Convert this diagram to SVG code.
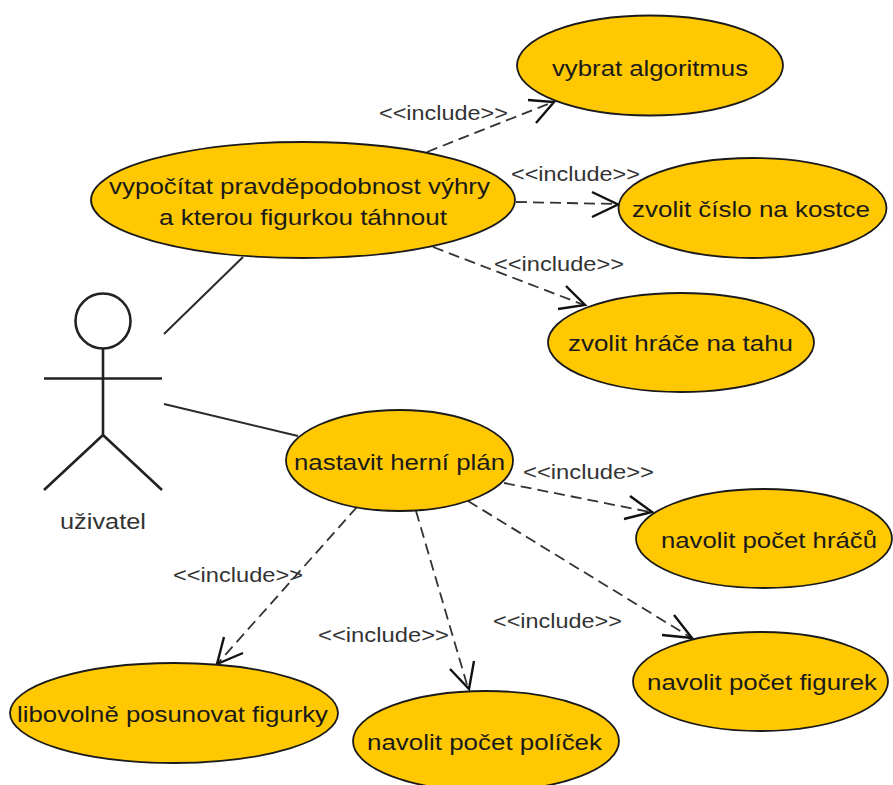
<svg xmlns="http://www.w3.org/2000/svg" width="893" height="785" viewBox="0 0 893 785">
<style>
.n{fill:#ffc800;stroke:#1a1a1a;stroke-width:1.8}
.t{font-family:"Liberation Sans",Arial,sans-serif;font-size:22.5px;fill:#1a1a1a}
.l{font-family:"Liberation Sans",Arial,sans-serif;font-size:20.5px;fill:#333}
.d{fill:none;stroke:#333;stroke-width:1.8;stroke-dasharray:11 6}
.a{fill:none;stroke:#111;stroke-width:2.4}
.s{fill:none;stroke:#2a2a2a;stroke-width:2}
.b{fill:none;stroke:#222;stroke-width:2.6}
.u{font-family:"Liberation Sans",Arial,sans-serif;font-size:22.5px;fill:#333}
</style>
<rect width="893" height="785" fill="#fff"/>
<g id="connectors">
<path class="s" d="M164 334L243 257M164 404L298 436"/>
<path class="d" d="M427 152L553 102"/><path class="a" d="M528 100L554 102L536 123"/>
<path class="d" d="M516 202L617 204"/><path class="a" d="M592 192L618 204.500L592 217"/>
<path class="d" d="M433 247L584 305"/><path class="a" d="M566 286L585 305L558 309"/>
<path class="d" d="M504 483L650 512"/><path class="a" d="M630 496L652 512L624 519"/>
<path class="d" d="M468 501L690 637"/><path class="a" d="M674 615L692 638L662 635"/>
<path class="d" d="M416 511L468 688"/><path class="a" d="M450 669L469 689L474 661"/>
<path class="d" d="M357 507L218 663"/><path class="a" d="M224 637L217 664L243 653"/>
</g>
<g id="actor">
<circle class="b" cx="103" cy="321" r="27.500"/>
<path class="b" d="M103 348V435M44 378.500H162M103 435L44 490M103 435L162 490"/>
<text class="u" x="60" y="529" textLength="86" lengthAdjust="spacingAndGlyphs">uživatel</text>
</g>
<g id="n1"><ellipse class="n" cx="650" cy="65.500" rx="133" ry="50"/><text class="t" x="552" y="76" textLength="196" lengthAdjust="spacingAndGlyphs">vybrat algoritmus</text></g>
<g id="n2"><ellipse class="n" cx="303" cy="200" rx="212" ry="58"/><text class="t" x="109" y="194" textLength="381" lengthAdjust="spacingAndGlyphs">vypočítat pravděpodobnost výhry</text><text class="t" x="159" y="225" textLength="288" lengthAdjust="spacingAndGlyphs">a kterou figurkou táhnout</text></g>
<g id="n3"><ellipse class="n" cx="752.500" cy="208" rx="134" ry="50"/><text class="t" x="632" y="217" textLength="238" lengthAdjust="spacingAndGlyphs">zvolit číslo na kostce</text></g>
<g id="n4"><ellipse class="n" cx="681" cy="342.500" rx="133" ry="49.500"/><text class="t" x="568" y="351" textLength="225" lengthAdjust="spacingAndGlyphs">zvolit hráče na tahu</text></g>
<g id="n5"><ellipse class="n" cx="399.500" cy="460.500" rx="113.500" ry="50.500"/><text class="t" x="294" y="470" textLength="211" lengthAdjust="spacingAndGlyphs">nastavit herní plán</text></g>
<g id="n6"><ellipse class="n" cx="764" cy="538.500" rx="128" ry="49.500"/><text class="t" x="661" y="548" textLength="216" lengthAdjust="spacingAndGlyphs">navolit počet hráčů</text></g>
<g id="n7"><ellipse class="n" cx="760.500" cy="681.500" rx="127.500" ry="49.500"/><text class="t" x="647" y="690" textLength="230" lengthAdjust="spacingAndGlyphs">navolit počet figurek</text></g>
<g id="n8"><ellipse class="n" cx="174" cy="713" rx="164" ry="50"/><text class="t" x="17" y="722" textLength="311" lengthAdjust="spacingAndGlyphs">libovolně posunovat figurky</text></g>
<g id="n9"><ellipse class="n" cx="486" cy="741" rx="133" ry="50"/><text class="t" x="367" y="750" textLength="235" lengthAdjust="spacingAndGlyphs">navolit počet políček</text></g>
<g id="labels">
<text class="l" x="379" y="120" textLength="129" lengthAdjust="spacingAndGlyphs">&lt;&lt;include&gt;&gt;</text>
<text class="l" x="511" y="181" textLength="129" lengthAdjust="spacingAndGlyphs">&lt;&lt;include&gt;&gt;</text>
<text class="l" x="494" y="271" textLength="130" lengthAdjust="spacingAndGlyphs">&lt;&lt;include&gt;&gt;</text>
<text class="l" x="523" y="479" textLength="131" lengthAdjust="spacingAndGlyphs">&lt;&lt;include&gt;&gt;</text>
<text class="l" x="493" y="628" textLength="129" lengthAdjust="spacingAndGlyphs">&lt;&lt;include&gt;&gt;</text>
<text class="l" x="173" y="582" textLength="130" lengthAdjust="spacingAndGlyphs">&lt;&lt;include&gt;&gt;</text>
<text class="l" x="318" y="642" textLength="131" lengthAdjust="spacingAndGlyphs">&lt;&lt;include&gt;&gt;</text>
</g>
</svg>
